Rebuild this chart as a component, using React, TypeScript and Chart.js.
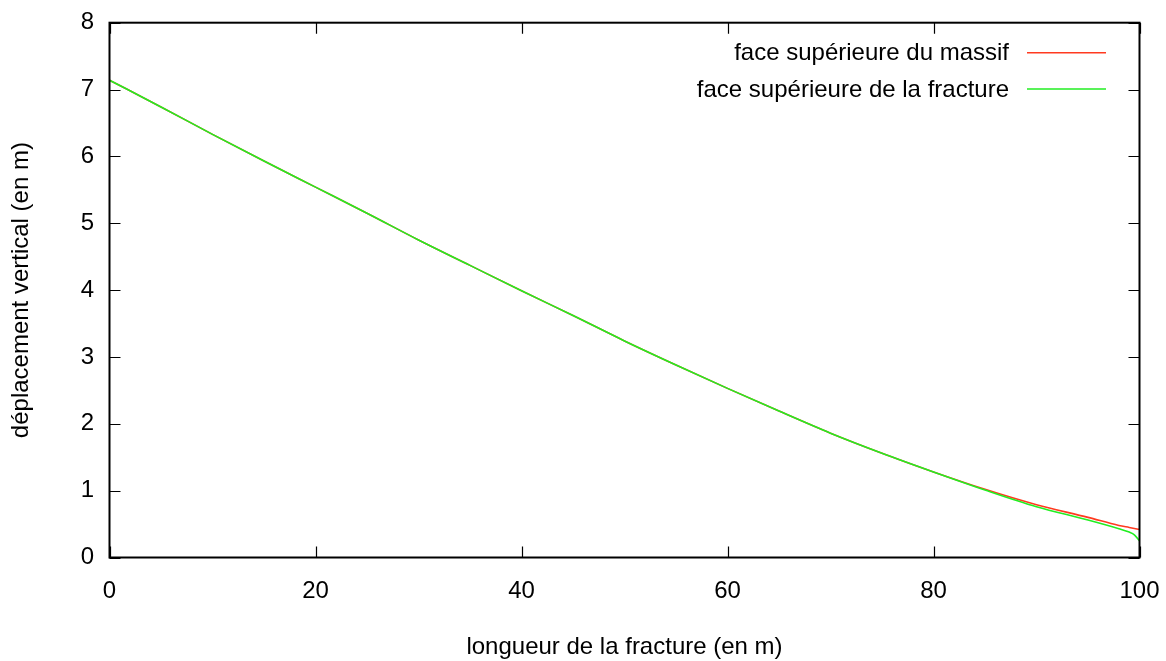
import React, { useEffect, useRef } from "react";
import { Chart, registerables } from "chart.js";

Chart.register(...registerables);

const xValues = [0, 5, 10, 15, 20, 25, 30, 35, 40, 45, 50, 55, 60, 65, 70, 75, 80, 85, 90, 95, 98, 99, 99.5, 100];
const massifValues = [7.14, 6.74, 6.33, 5.93, 5.54, 5.15, 4.75, 4.37, 3.99, 3.62, 3.24, 2.88, 2.53, 2.19, 1.86, 1.56, 1.28, 1.02, 0.79, 0.6, 0.48, 0.45, 0.435, 0.42];
const fractureValues = [7.14, 6.74, 6.33, 5.93, 5.54, 5.15, 4.75, 4.37, 3.99, 3.62, 3.24, 2.88, 2.53, 2.19, 1.86, 1.56, 1.28, 1.01, 0.76, 0.56, 0.43, 0.38, 0.34, 0.25];
const seriesLabels = ["face supérieure du massif", "face supérieure de la fracture"];
const seriesColors = ["#ff3a20", "#22ee22"];
const xTitle = "longueur de la fracture (en m)";
const yTitle = "déplacement vertical (en m)";

const FONT = "'Liberation Sans', Arial, Helvetica, sans-serif";

const framePlugin = {
  id: "gnuplotFrame",
  afterDraw(chart: any) {
    const { ctx, chartArea } = chart;
    const { left, right, top, bottom } = chartArea;
    const xs = chart.scales.x;
    const ys = chart.scales.y;
    const tl = 11;
    ctx.save();
    ctx.strokeStyle = "#000";
    ctx.lineWidth = 1.2;
    ctx.beginPath();
    xs.ticks.forEach((t: any) => {
      const px = Math.round(xs.getPixelForValue(t.value)) + 0.5;
      ctx.moveTo(px, bottom);
      ctx.lineTo(px, bottom - tl);
      ctx.moveTo(px, top);
      ctx.lineTo(px, top + tl);
    });
    ys.ticks.forEach((t: any) => {
      const py = Math.round(ys.getPixelForValue(t.value)) + 0.5;
      ctx.moveTo(left, py);
      ctx.lineTo(left + tl, py);
      ctx.moveTo(right, py);
      ctx.lineTo(right - tl, py);
    });
    ctx.stroke();
    ctx.lineWidth = 2;
    ctx.strokeRect(left, top, right - left, bottom - top);

    // legend (gnuplot style: text right-aligned, then line sample)
    ctx.font = `24px ${FONT}`;
    ctx.textAlign = "right";
    ctx.textBaseline = "middle";
    const legendY = [52.7, 89];
    chart.data.datasets.forEach((ds: any, i: number) => {
      const y = legendY[i];
      ctx.fillStyle = "#000";
      ctx.fillText(ds.label, 1009, y + 1);
      ctx.strokeStyle = ds.borderColor;
      ctx.lineWidth = 1.6;
      ctx.beginPath();
      ctx.moveTo(1027, y);
      ctx.lineTo(1106, y);
      ctx.stroke();
    });
    ctx.restore();
  },
};

export default function App() {
  const canvasRef = useRef<HTMLCanvasElement | null>(null);

  useEffect(() => {
    const canvas = canvasRef.current;
    if (!canvas) return;
    const chart = new Chart(canvas, {
      type: "line",
      data: {
        datasets: [
          {
            label: seriesLabels[0],
            data: xValues.map((x, i) => ({ x, y: massifValues[i] })),
            borderColor: seriesColors[0],
            borderWidth: 1.6,
            pointRadius: 0,
            fill: false,
            cubicInterpolationMode: "monotone",
            order: 1,
          },
          {
            label: seriesLabels[1],
            data: xValues.map((x, i) => ({ x, y: fractureValues[i] })),
            borderColor: seriesColors[1],
            borderWidth: 1.6,
            pointRadius: 0,
            fill: false,
            cubicInterpolationMode: "monotone",
            order: 0,
          },
        ],
      },
      options: {
        responsive: false,
        animation: false,
        events: [],
        layout: { padding: { left: 0, right: 26.5, top: 22.7, bottom: 0 } },
        plugins: {
          legend: { display: false },
          tooltip: { enabled: false },
        },
        scales: {
          x: {
            type: "linear",
            min: 0,
            max: 100,
            grid: { display: false, drawTicks: false },
            border: { display: false },
            ticks: {
              stepSize: 20,
              color: "#000",
              padding: 19.5,
              font: { family: FONT, size: 24 },
              maxRotation: 0,
            },
            title: {
              display: true,
              text: xTitle,
              color: "#000",
              font: { family: FONT, size: 24 },
              padding: { top: 0, bottom: -1 },
            },
            afterFit(scale: any) {
              scale.height = 661 - 557.5;
              scale.paddingLeft = 0;
              scale.paddingRight = 0;
            },
          },
          y: {
            type: "linear",
            min: 0,
            max: 8,
            grid: { display: false, drawTicks: false },
            border: { display: false },
            ticks: {
              stepSize: 1,
              color: "#000",
              padding: 15.5,
              font: { family: FONT, size: 24 },
            },
            title: {
              display: true,
              text: yTitle,
              color: "#000",
              font: { family: FONT, size: 24 },
              padding: { top: 7, bottom: 0 },
            },
            afterFit(scale: any) {
              scale.width = 109.5;
              scale.paddingTop = 0;
              scale.paddingBottom = 0;
            },
          },
        },
      },
      plugins: [framePlugin],
    } as any);
    return () => chart.destroy();
  }, []);

  return (
    <div style={{ position: "absolute", left: 0, top: 0, width: 1166, height: 661, background: "#fff" }}>
      <canvas ref={canvasRef} width={1166} height={661} style={{ display: "block" }} />
    </div>
  );
}
